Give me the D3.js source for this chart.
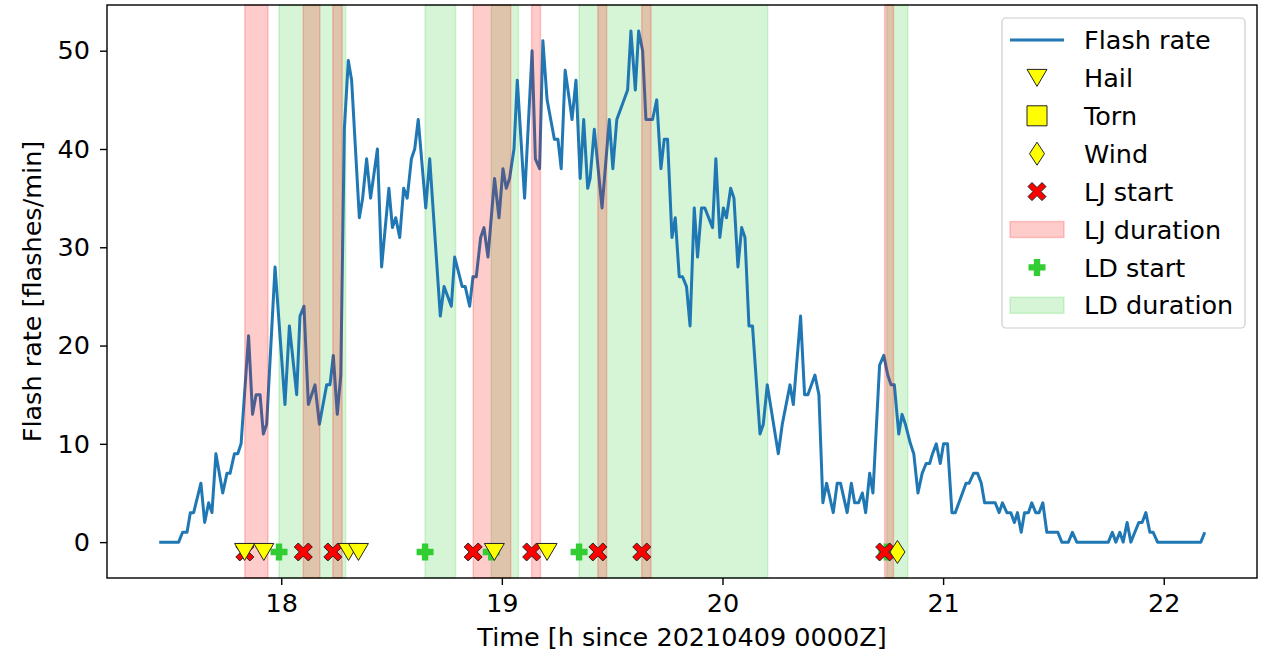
<!DOCTYPE html>
<html><head><meta charset="utf-8">
<script src="https://cdn.jsdelivr.net/npm/d3@7"></script>
<style>body{margin:0;background:#fff}svg{display:block;font-family:"DejaVu Sans",sans-serif}</style>
</head><body><svg id="c" width="1268" height="656"></svg>
<script>
// ---- data ----
const times = [17.447,17.535,17.553,17.573,17.588,17.603,17.636,17.653,17.671,17.686,17.704,17.735,17.754,17.768,17.788,17.803,17.818,17.852,17.870,17.886,17.904,17.919,17.934,17.972,18.017,18.037,18.070,
18.085,18.103,18.123,18.153,18.173,18.206,18.221,18.236,18.254,18.270,18.286,18.304,18.319,18.354,18.369,18.387,18.405,18.436,18.455,18.488,18.504,18.519,18.537,18.555,18.571,18.590,18.605,18.621,18.655,18.673,18.721,18.738,
18.771,18.786,18.809,18.820,18.834,18.854,18.869,18.884,18.904,18.919,18.937,18.967,18.987,19.005,19.020,19.035,19.055,19.070,19.103,19.137,19.152,19.171,19.186,19.205,19.238,19.254,19.269,19.287,19.306,19.318,19.336,19.355,19.371,19.389,
19.400,19.419,19.454,19.487,19.503,19.521,19.570,19.585,19.605,19.620,19.638,19.653,19.683,19.702,19.721,19.736,19.751,19.771,19.786,19.804,19.819,19.837,19.853,19.872,19.887,19.905,19.920,19.955,19.970,19.988,20.004,20.018,20.037,20.052,
20.070,20.087,20.102,20.120,20.136,20.170,20.185,20.203,20.253,20.271,20.306,20.321,20.354,20.372,20.387,20.419,20.437,20.455,20.472,20.502,20.520,20.535,20.565,20.584,20.599,20.617,20.634,20.649,20.667,20.682,20.712,20.731,20.749,20.764,20.779,20.799,
20.814,20.829,20.852,20.867,20.886,20.905,20.923,20.939,20.952,20.969,20.987,21.002,21.020,21.040,21.055,21.104,21.118,21.138,21.156,21.173,21.188,21.236,21.254,21.269,21.289,21.307,21.323,21.337,21.354,21.369,21.387,21.402,21.420,21.435,21.452,21.470,21.520,
21.538,21.568,21.586,21.606,21.749,21.767,21.783,21.801,21.816,21.834,21.851,21.869,21.887,21.902,21.919,21.937,21.952,21.972,22.168,22.186];
const rates = [0,0,1,1,3,3,6,2,4,3,9,5,7,7,9,9,10,21,13,15,15,11,12,28,14,22,15,
23,24,14,16,12,16,16,19,13,17,42,49,47,33,35,39,35,40,28,36,32,33,31,36,35,39,40,43,34,39,23,26,
24,29,27,26,26,24,27,27,31,32,29,37,33,38,36,37,40,47,35,50,39,38,51,45,41,41,38,48,45,43,47,37,43,36,
37,42,34,43,38,43,46,52,46,52,50,43,43,45,38,41,41,31,33,27,27,26,22,34,29,34,34,32,39,31,34,33,36,35,
28,32,31,22,22,11,12,16,9,12,16,14,23,15,15,17,15,4,6,3,6,6,3,6,4,4,5,3,7,5,18,19,17,16,16,11,
13,12,10,9,5,7,8,8,9,10,8,10,10,3,3,6,6,7,7,6,4,4,3,4,3,3,2,3,1,3,3,4,3,3,4,1,1,
0,0,1,0,0,1,0,1,0,2,0,1,2,2,3,1,1,0,0,1];

const ljStart = [17.835, 18.100, 18.234, 18.870, 19.135, 19.435, 19.634, 20.735];
const ljEnd   = [17.940, 18.175, 18.276, 19.040, 19.175, 19.475, 19.676, 20.775];
const ldStart = [17.990, 18.652, 18.952, 19.350, 20.745];
const ldEnd   = [18.292, 18.790, 19.075, 20.205, 20.840];
const hailTimes = [17.834, 17.921, 18.305, 18.350, 18.966, 19.205];
const tornTimes = [];
const windTimes = [20.793];
const markerLevel = -1;

const xTicks = [18, 19, 20, 21, 22];
const yTicks = [0, 10, 20, 30, 40, 50];
const legendLabels = ["Flash rate","Hail","Torn","Wind","LJ start","LJ duration","LD start","LD duration"];

// ---- chart ----
const svg = d3.select("#c");
const L = 107, R = 1257, T = 5, B = 578;
const x = d3.scaleLinear().domain([17.2103, 22.4227]).range([L, R]);
const y = d3.scaleLinear().domain([-3.65, 54.65]).range([B, T]);
const FS = 25.5;

const spanRed = "rgba(255,0,0,0.2)", spanGreen = "rgba(50,205,50,0.2)";

svg.append("g").selectAll("rect").data(ldStart).join("rect")
  .attr("x", (d) => x(d)).attr("width", (d, i) => x(ldEnd[i]) - x(d))
  .attr("y", T).attr("height", B - T)
  .attr("fill", spanGreen).attr("stroke", spanGreen).attr("stroke-width", 1.5);

const pts = times.map((t, i) => [t, rates[i]]);
svg.append("path").datum(pts)
  .attr("d", d3.line().x(d => x(d[0])).y(d => y(d[1])))
  .attr("fill", "none").attr("stroke", "#1f77b4").attr("stroke-width", 3)
  .attr("stroke-linejoin", "round");

svg.append("g").selectAll("rect").data(ljStart).join("rect")
  .attr("x", (d) => x(d)).attr("width", (d, i) => x(ljEnd[i]) - x(d))
  .attr("y", T).attr("height", B - T)
  .attr("fill", spanRed).attr("stroke", spanRed).attr("stroke-width", 1.5);

const S = 10;
const triPath = `M${-S},${-S*0.85}L${S},${-S*0.85}L0,${S*0.85}Z`;
const sqPath = `M${-S},${-S}L${S},${-S}L${S},${S}L${-S},${S}Z`;
const diaPath = `M0,${-S*1.15}L${S*0.75},0L0,${S*1.15}L${-S*0.75},0Z`;
function xPath(){
  const a = 9, k = 4;
  const p = [[0,-k],[a-k,-a],[a,-a+k],[k,0],[a,a-k],[a-k,a],[0,k],[-a+k,a],[-a,a-k],[-k,0],[-a,-a+k],[-a+k,-a]];
  return "M" + p.map(q => q.join(",")).join("L") + "Z";
}
const plusPath = (() => { const h = 8.5, t = 3.2; return `M${-t},${-h}L${t},${-h}L${t},${-t}L${h},${-t}L${h},${t}L${t},${t}L${t},${h}L${-t},${h}L${-t},${t}L${-h},${t}L${-h},${-t}L${-t},${-t}Z`; })();

function markers(data, path, fill, stroke, sw){
  svg.append("g").selectAll("path").data(data).join("path")
    .attr("transform", d => `translate(${x(d)},${y(markerLevel)})`)
    .attr("d", path).attr("fill", fill).attr("stroke", stroke).attr("stroke-width", sw)
    .attr("stroke-linejoin", "round");
}
markers(ldStart, plusPath, "#32cd32", "none", 0);
markers(ljStart, xPath(), "#ff0000", "#222", 1);
markers(hailTimes, triPath, "#ffff00", "#222", 1);
markers(tornTimes, sqPath, "#ffff00", "#222", 1);
markers(windTimes, diaPath, "#ffff00", "#222", 1);

const xa = svg.append("g").attr("transform", `translate(0,${B})`)
  .call(d3.axisBottom(x).tickValues(xTicks).tickFormat(d3.format("d")).tickSize(7).tickPadding(9));
const ya = svg.append("g").attr("transform", `translate(${L},0)`)
  .call(d3.axisLeft(y).tickValues(yTicks).tickFormat(d3.format("d")).tickSize(7).tickPadding(10));
[xa, ya].forEach(g => {
  g.select(".domain").remove();
  g.selectAll("line").attr("stroke", "#000").attr("stroke-width", 1.4);
  g.selectAll("text").attr("font-size", FS).attr("font-family", "DejaVu Sans").attr("fill", "#000");
});
svg.append("rect").attr("x", L).attr("y", T).attr("width", R - L).attr("height", B - T)
  .attr("fill", "none").attr("stroke", "#000").attr("stroke-width", 1.4);

svg.append("text").attr("x", (L + R) / 2).attr("y", 646).attr("text-anchor", "middle")
  .attr("font-size", FS).text("Time [h since 20210409 0000Z]");
svg.append("text").attr("transform", `translate(41,${(T + B) / 2}) rotate(-90)`).attr("text-anchor", "middle")
  .attr("font-size", FS).text("Flash rate [flashes/min]");

const lg = svg.append("g");
lg.append("rect").attr("x", 1002).attr("y", 18).attr("width", 243).attr("height", 310).attr("rx", 4)
  .attr("fill", "rgba(255,255,255,0.8)").attr("stroke", "#ccc").attr("stroke-width", 1.2);
const rowY = i => 40 + i * 37.9;
const hx = 1037;
legendLabels.forEach((lab, i) => {
  const cy = rowY(i);
  lg.append("text").attr("x", 1084).attr("y", cy).attr("dy", "0.36em").attr("font-size", FS).text(lab);
  const g = lg.append("g").attr("transform", `translate(${hx},${cy})`);
  if (i === 0) g.append("line").attr("x1", -27).attr("x2", 27).attr("stroke", "#1f77b4").attr("stroke-width", 3);
  else if (i === 1) g.append("path").attr("d", triPath).attr("fill", "#ffff00").attr("stroke", "#222").attr("stroke-width", 1);
  else if (i === 2) g.append("path").attr("d", sqPath).attr("fill", "#ffff00").attr("stroke", "#222").attr("stroke-width", 1);
  else if (i === 3) g.append("path").attr("d", diaPath).attr("fill", "#ffff00").attr("stroke", "#222").attr("stroke-width", 1);
  else if (i === 4) g.append("path").attr("d", xPath()).attr("fill", "#ff0000").attr("stroke", "#222").attr("stroke-width", 1);
  else if (i === 5) g.append("rect").attr("x", -27).attr("y", -8).attr("width", 54).attr("height", 16).attr("fill", spanRed).attr("stroke", spanRed).attr("stroke-width", 1.5);
  else if (i === 6) g.append("path").attr("d", plusPath).attr("fill", "#32cd32");
  else g.append("rect").attr("x", -27).attr("y", -8).attr("width", 54).attr("height", 16).attr("fill", spanGreen).attr("stroke", spanGreen).attr("stroke-width", 1.5);
});
</script></body></html>
